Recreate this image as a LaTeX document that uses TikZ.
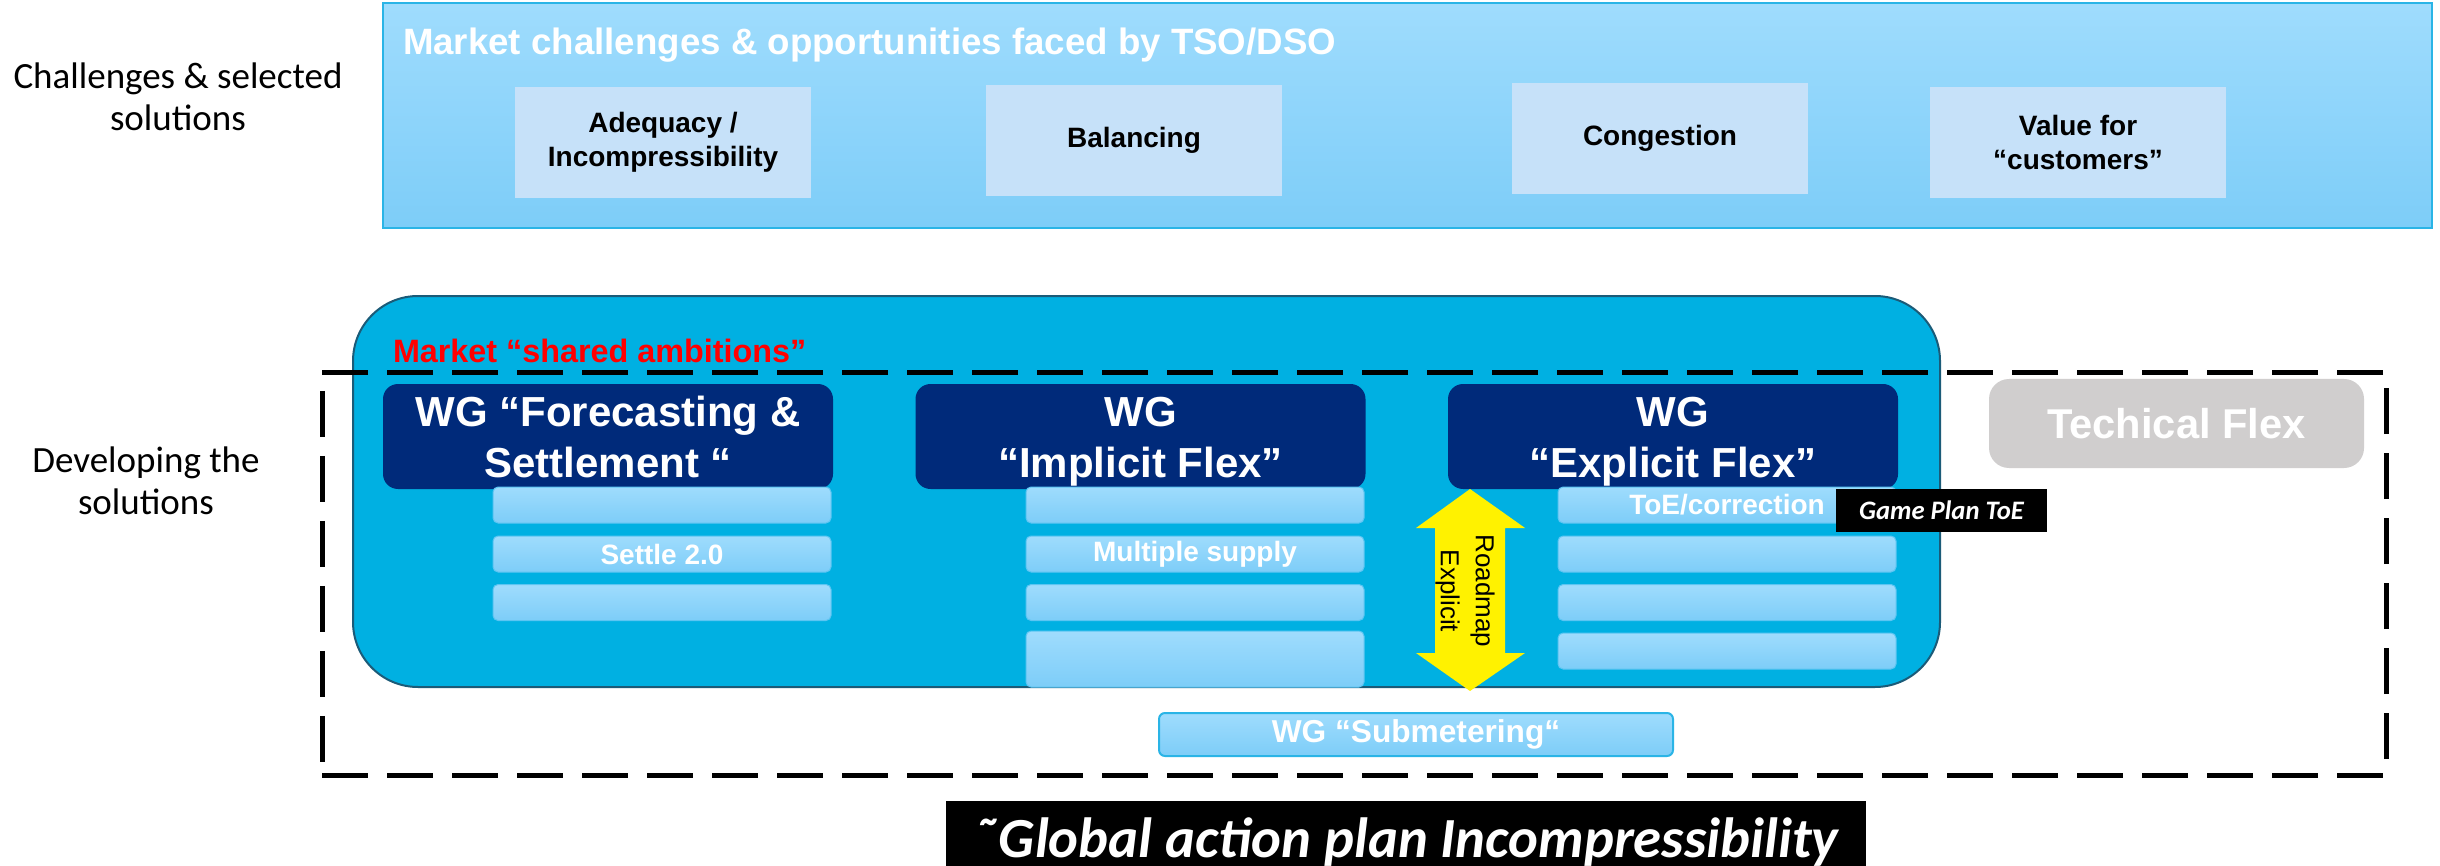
\documentclass[tikz,border=0pt]{standalone}
\usepackage{fontspec}
\setmainfont{Liberation Sans}
\newfontfamily\calib{Carlito}
\definecolor{topA}{HTML}{9FDCFD}
\definecolor{topB}{HTML}{7DCDF8}
\definecolor{chalfill}{HTML}{C6E1F9}
\definecolor{cyanbox}{HTML}{00B0E2}
\definecolor{cyanedge}{HTML}{1B5B78}
\definecolor{navy}{HTML}{002A7A}
\definecolor{grayflex}{HTML}{D0CECE}
\definecolor{edgeblue}{HTML}{2AB4E6}
\definecolor{subedge}{HTML}{5CC5F2}
\newcommand\hup[1]{\rule{0pt}{#1em}}
\newcommand\hdn[1]{\rule[-#1em]{0pt}{#1em}}
\begin{document}
\begin{tikzpicture}[x=0.3pt,y=-0.3pt,
  every node/.style={inner sep=0pt,outer sep=0pt},
  chalbig/.style={draw=edgeblue,line width=0.6pt,top color=topA,bottom color=topB,minimum width=614.7pt,minimum height=67.5pt},
  chalbox/.style={fill=chalfill,minimum width=88.8pt,minimum height=33.3pt,align=center,font=\fontsize{8.4}{10.2}\selectfont\bfseries},
  lab/.style={align=center,font=\calib\fontsize{11.1}{12.6}\selectfont},
  ambbox/.style={draw=cyanedge,line width=0.6pt,fill=cyanbox,rounded corners=19.5pt,minimum width=476.1pt,minimum height=117.3pt},
  devbox/.style={draw=black,line width=1.5pt,dash pattern=on 13.8pt off 5.7pt,minimum width=619.2pt,minimum height=120.9pt},
  wgbox/.style={fill=navy,rounded corners=4.5pt,minimum width=135pt,minimum height=31.5pt,text=white,align=center,font=\fontsize{12.6}{15.3}\selectfont\bfseries},
  subbox/.style={draw=subedge,line width=0.3pt,top color=topA,bottom color=topB,rounded corners=1.5pt,minimum width=101.4pt,minimum height=10.8pt,text=white,font=\fontsize{8.4}{10}\selectfont\bfseries},
  blackbox/.style={fill=black,text=white},
  techbox/.style={fill=grayflex,rounded corners=6pt,minimum width=112.5pt,minimum height=26.7pt,text=white,font=\fontsize{12.5}{15}\selectfont\bfseries},
  submbox/.style={draw=edgeblue,line width=0.6pt,top color=topA,bottom color=topB,rounded corners=1.8pt,minimum width=154.2pt,minimum height=12.9pt,text=white,font=\fontsize{9.5}{11}\selectfont\bfseries}
]
\useasboundingbox (0,0) rectangle (2440,866);
\clip (0,0) rectangle (2440,866);
\fill[white] (0,0) rectangle (2440,866);

% left labels
\node[lab] (labA) at (178,99.2) {\hup{0.75}Challenges \& selected\\solutions\hdn{0.22}};
\node[lab] (labB) at (146,483.2) {\hup{0.75}Developing the\\solutions\hdn{0.22}};

% challenges
\node[chalbig] (chal) at (1407.5,115.5) {};
\node[anchor=base west,text=white,font=\fontsize{11}{13}\selectfont\bfseries] (chaltitle) at (403,55) {Market challenges \& opportunities faced by TSO/DSO};
\node[chalbox] (adeq) at (663,142.5) {Adequacy /\\Incompressibility};
\node[chalbox] (bal) at (1134,140.5) {Balancing};
\node[chalbox] (cong) at (1660,138.5) {Congestion};
\node[chalbox] (val) at (2078,142.5) {Value for\\“customers”};

% shared ambitions
\node[ambbox] (amb) at (1146.5,491.5) {};
\node[anchor=base west,text=red,font=\fontsize{9.7}{11}\selectfont\bfseries] (ambt) at (393,362) {Market “shared ambitions”};
\node[devbox] (dev) at (1354,573.5) {};

% working groups
\node[wgbox] (wgF) at (608,436.5) {\hup{0.98}WG “Forecasting \&\\Settlement “\hdn{0.22}};
\node[wgbox] (wgI) at (1140.5,436.5) {\hup{0.98}WG\\“Implicit Flex”\hdn{0.22}};
\node[wgbox] (wgE) at (1673,436.5) {\hup{0.98}WG\\“Explicit Flex”\hdn{0.22}};

\node[subbox] (f1) at (662,505) {};
\node[subbox] (f2) at (662,554) {Settle 2.0};
\node[subbox] (f3) at (662,602.5) {};
\node[subbox] (i1) at (1195,505) {};
\node[subbox] (i2) at (1195,554) {Multiple supply};
\node[subbox] (i3) at (1195,602.5) {};
\node[subbox,minimum height=16.8pt] (i4) at (1195,659) {};
\node[subbox] (e1) at (1727,505) {ToE/correction};
\node[subbox] (e2) at (1727,554) {};
\node[subbox] (e3) at (1727,602.5) {};
\node[subbox] (e4) at (1727,651) {};

% roadmap double arrow
\fill[yellow] (1470,489) -- (1525,528) -- (1505,528) -- (1505,653) -- (1525,653) -- (1470,691)
  -- (1416,653) -- (1435,653) -- (1435,528) -- (1416,528) -- cycle;
\node[rotate=-90,align=center,font=\fontsize{7.8}{10.5}\selectfont] (rm) at (1465,591) {Roadmap\\Explicit};

\node[blackbox,minimum width=63.3pt,minimum height=12.9pt,font=\calib\fontsize{8}{9}\selectfont\bfseries\itshape] (gp) at (1941.5,510.5) {Game Plan ToE};
\node[techbox] (tech) at (2176.5,423.5) {Techical Flex};
\node[submbox] (subm) at (1416,734.5) {WG “Submetering“};

% global action plan
\node[blackbox,minimum width=276pt,minimum height=29.7pt] (glob) at (1406,850.5) {};
\node[anchor=base,text=white,font=\calib\fontsize{17}{20}\selectfont\bfseries\itshape] (globt) at (1406,857) {˜Global action plan Incompressibility};
\end{tikzpicture}
\end{document}
